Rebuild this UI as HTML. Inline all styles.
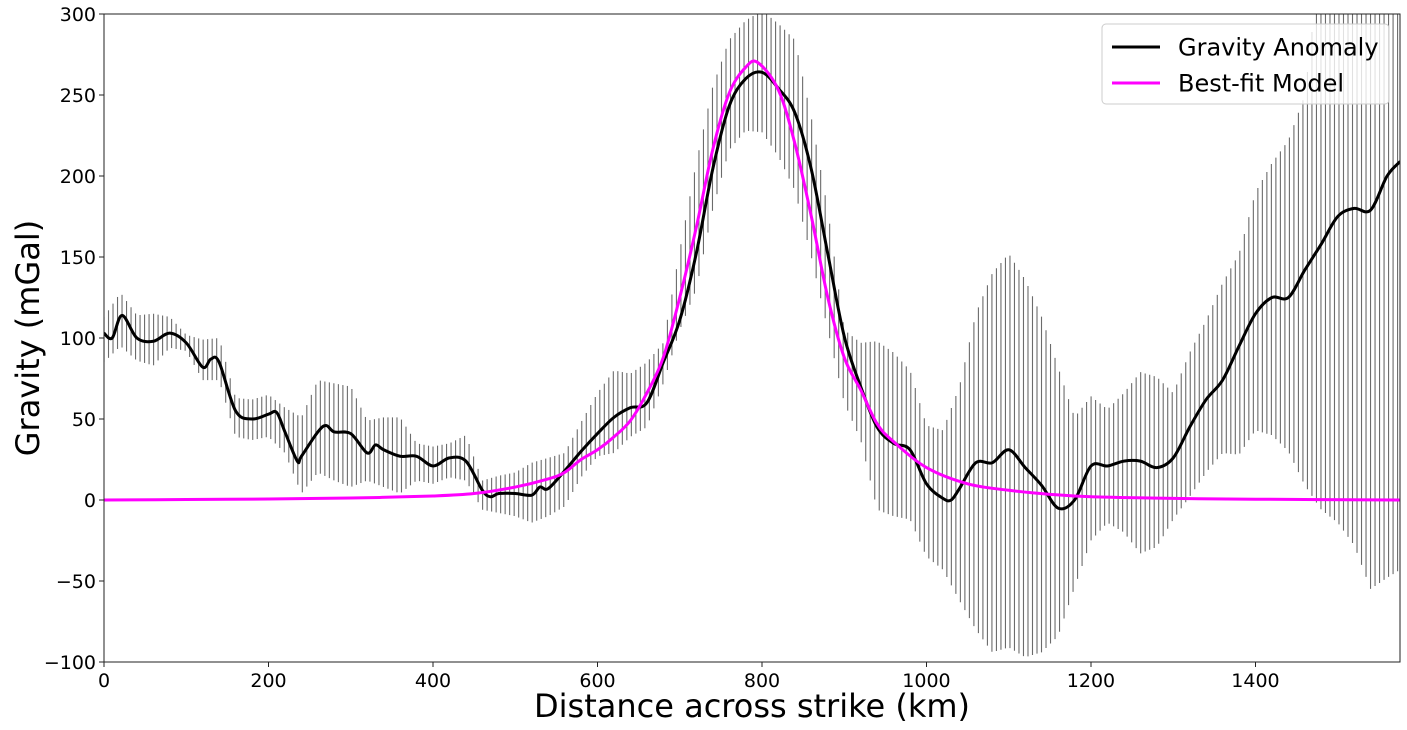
<!DOCTYPE html>
<html><head><meta charset="utf-8"><style>
html,body{margin:0;padding:0;background:#fff;}
svg{display:block;font-family:"DejaVu Sans","Liberation Sans",sans-serif;}
</style></head><body>
<svg id="chart" width="1407" height="730" viewBox="0 0 1407 730" xmlns="http://www.w3.org/2000/svg">
<defs><clipPath id="plotclip"><rect x="104" y="14" width="1296" height="648"/></clipPath></defs>
<rect width="1407" height="730" fill="#fff"/>
<g id="errbars" clip-path="url(#plotclip)"></g>
<g id="lines" clip-path="url(#plotclip)"></g>
<g id="axes"></g>
<g id="legend"></g>
<text x="752" y="717" text-anchor="middle" font-size="32" fill="#000">Distance across strike (km)</text>
<text transform="translate(39,338) rotate(-90)" text-anchor="middle" font-size="32" fill="#000">Gravity (mGal)</text>
</svg>
<script>
// Gravity anomaly (km, mGal)
const gravKm = [0,10,22,40,60,80,100,120,130,140,160,180,200,210,220,235,240,260,270,280,300,320,330,340,360,380,400,420,440,460,470,480,500,520,530,540,560,580,600,620,640,660,680,700,720,740,760,780,800,820,840,860,880,900,920,940,960,980,1000,1020,1030,1040,1060,1080,1100,1120,1140,1160,1180,1200,1220,1240,1260,1280,1300,1320,1340,1360,1380,1400,1420,1440,1460,1480,1500,1520,1540,1560,1576];
const gravVal = [103,100,114,100,98,103,97,82,87,85,55,50,53,54,42,24,27,42,46,42,41,29,34,31,27,27,21,26,24,6,2,4,4,3,8,7,18,30,41,51,57,60,85,111,152,204,243,260,264,254,239,204,152,101,70,45,35,31,10,1,0,7,23,23,31,20,9,-5,0,21,21,24,24,20,26,45,62,74,95,115,125,125,142,158,175,180,179,200,209];
// Best-fit model
const modelKm = [0,100,200,300,400,450,500,540,560,580,600,620,640,660,680,700,720,740,760,780,795,820,840,860,880,900,920,940,960,1000,1050,1100,1150,1200,1300,1400,1576];
const modelVal = [0,0.3,0.6,1.2,2.5,4,8,13,17,25,31,39,49,66,88,125,168,216,251,267,270,253,220,175,125,88,68,47,36,20,10,6,3.5,2,1,0.5,0];
// Error bar envelope (km, low, high)
const errKm = [0,20,40,60,80,100,120,140,160,180,200,220,240,260,280,300,320,340,360,380,400,420,440,460,480,500,520,540,560,580,600,620,640,660,680,700,720,740,760,780,800,820,840,860,880,900,920,940,960,980,1000,1020,1040,1060,1080,1100,1120,1140,1160,1180,1200,1220,1240,1260,1280,1300,1320,1340,1360,1380,1400,1420,1440,1460,1480,1500,1520,1540,1560,1576];
const errLo = [85,95,86,83,94,92,74,74,39,37,39,29,4,17,12,8,12,8,4,12,10,14,12,-6,-8,-10,-14,-10,-4,14,27,29,39,45,72,105,130,179,216,228,227,212,191,150,105,60,37,-6,-10,-12,-35,-43,-62,-80,-94,-91,-97,-94,-84,-54,-25,-14,-20,-33,-29,-12,2,17,29,28,43,40,30,9,-6,-14,-28,-55,-48,-43];
const errHi = [113,128,114,115,113,102,99,100,63,62,65,57,51,74,72,70,49,51,51,35,33,35,40,12,15,17,23,26,29,48,66,80,78,85,97,154,208,255,284,296,302,294,284,236,179,105,97,98,91,80,46,43,70,115,140,152,136,113,82,51,64,56,66,79,76,66,91,111,134,152,190,208,222,250,340,360,380,390,390,380];
const xTicks = [0,200,400,600,800,1000,1200,1400];
const yTicks = [-100,-50,0,50,100,150,200,250,300];

const NS = "http://www.w3.org/2000/svg";
const X0 = 104, X1 = 1400, Y0 = 662, Y1 = 14;
const xMax = 1575.7, yMin = -100, yMax = 300;
function xs(v){ return X0 + (v / xMax) * (X1 - X0); }
function ys(v){ return Y0 - (v - yMin) / (yMax - yMin) * (Y0 - Y1); }
function mk(tag, attrs){ const e = document.createElementNS(NS, tag); for (const k in attrs) e.setAttribute(k, attrs[k]); return e; }
function interp(kx, vals, x){
  if (x <= kx[0]) return vals[0];
  for (let i = 1; i < kx.length; i++) if (x <= kx[i]) { const t = (x - kx[i-1]) / (kx[i] - kx[i-1]); return vals[i-1] + t * (vals[i] - vals[i-1]); }
  return vals[vals.length - 1];
}
function smoothPath(kx, vals){
  const p = kx.map((k, i) => [xs(k), ys(vals[i])]);
  let d = "M" + p[0][0].toFixed(2) + "," + p[0][1].toFixed(2);
  for (let i = 0; i < p.length - 1; i++) {
    const p0 = p[Math.max(0, i-1)], p1 = p[i], p2 = p[i+1], p3 = p[Math.min(p.length-1, i+2)];
    const c1 = [p1[0] + (p2[0]-p0[0])/6, p1[1] + (p2[1]-p0[1])/6];
    const c2 = [p2[0] - (p3[0]-p1[0])/6, p2[1] - (p3[1]-p1[1])/6];
    d += " C" + c1[0].toFixed(2) + "," + c1[1].toFixed(2) + " " + c2[0].toFixed(2) + "," + c2[1].toFixed(2) + " " + p2[0].toFixed(2) + "," + p2[1].toFixed(2);
  }
  return d;
}

// error bars
const eb = document.getElementById("errbars");
const step = 5.48;
for (let k = 0; k <= xMax; k += step) {
  const lo = interp(errKm, errLo, k), hi = interp(errKm, errHi, k);
  const ln = mk("line", {x1: xs(k), x2: xs(k), y1: ys(lo), y2: ys(hi), stroke: "#6b6b6b", "stroke-width": 1.1});
  
  
  eb.appendChild(ln);
}

// lines
const lg = document.getElementById("lines");
const grav = mk("path", {d: smoothPath(gravKm, gravVal), fill: "none", stroke: "#000", "stroke-width": 3, "stroke-linejoin": "round"});


lg.appendChild(grav);
const model = mk("path", {d: smoothPath(modelKm, modelVal), fill: "none", stroke: "#ff00ff", "stroke-width": 3, "stroke-linejoin": "round"});


lg.appendChild(model);

// axes
const ax = document.getElementById("axes");
const frame = mk("rect", {x: X0, y: Y1, width: X1 - X0, height: Y0 - Y1, fill: "none", stroke: "#222", "stroke-width": 1});


ax.appendChild(frame);
xTicks.forEach(t => {
  const tk = mk("line", {x1: xs(t), x2: xs(t), y1: Y0, y2: Y0 + 5, stroke: "#222", "stroke-width": 1});
  
  
  ax.appendChild(tk);
  const tx = mk("text", {x: xs(t), y: Y0 + 25, "text-anchor": "middle", "font-size": 19, fill: "#000"});
  tx.textContent = String(t);
  
  
  ax.appendChild(tx);
});
yTicks.forEach(t => {
  const tk = mk("line", {x1: X0 - 5, x2: X0, y1: ys(t), y2: ys(t), stroke: "#222", "stroke-width": 1});
  
  
  ax.appendChild(tk);
  const tx = mk("text", {x: X0 - 8, y: ys(t) + 7, "text-anchor": "end", "font-size": 19, fill: "#000"});
  tx.textContent = t < 0 ? "\u2212" + Math.abs(t) : String(t);
  
  
  ax.appendChild(tx);
});

// legend
const leg = document.getElementById("legend");
const box = mk("rect", {x: 1102, y: 24, width: 287, height: 80, rx: 4, fill: "#fff", "fill-opacity": 0.8, stroke: "#ccc", "stroke-width": 1});


leg.appendChild(box);
[["Gravity Anomaly", "#000", 47, "legend-entry-gravity"], ["Best-fit Model", "#ff00ff", 83, "legend-entry-model"]].forEach(e => {
  const l = mk("line", {x1: 1112, x2: 1160, y1: e[2], y2: e[2], stroke: e[1], "stroke-width": 3});
  
  
  leg.appendChild(l);
  const t = mk("text", {x: 1178, y: e[2] + 8.5, "font-size": 24, fill: "#000"});
  t.textContent = e[0];
  
  
  leg.appendChild(t);
});
</script>
</body></html>
